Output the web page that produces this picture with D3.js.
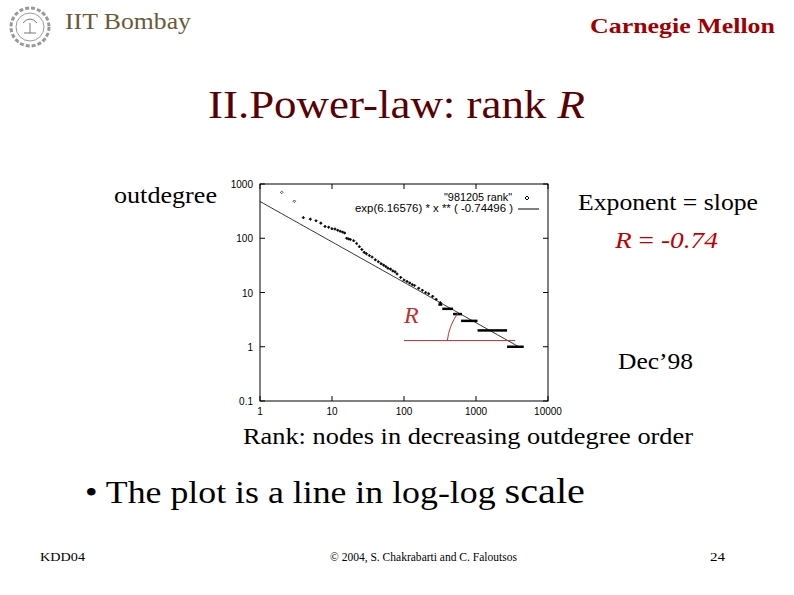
<!DOCTYPE html>
<html><head><meta charset="utf-8">
<script src="https://cdn.jsdelivr.net/npm/d3@7"></script>
<style>body{margin:0;background:#fff}</style>
</head><body>
<svg id="c" width="794" height="595"></svg>
<script>
// scattered points of the "981205 rank" series
const ranks = [2,3,4,5,6,7,8,9,10,11,12,13,14,15,16,17,18,20,22,24,26,28,30,33,36,40,44,48,52,56,60,65,70,75,80,90,100,110,120,130,140,160,180,200,220,250,280,320];
const degrees = [700,480,240,225,210,190,165,160,150,148,140,135,130,125,100,97,95,90,80,70,62,55,52,48,45,40,37,34,32,30,28,27,25,24,22,19,17,16,15,14,13.5,12,11,10,9.5,8.5,7.5,6.5];
// horizontal runs of equal outdegree
const plateauDeg = [6, 5, 4, 3, 2, 1];
const plateauFrom = [300, 340, 480, 620, 1050, 2700];
const plateauTo = [340, 480, 640, 1050, 2700, 4600];
const fitA = Math.exp(6.16576), fitB = -0.74496;
const xTicks = [1, 10, 100, 1000, 10000];
const yTicks = [0.1, 1, 10, 100, 1000];

const svg = d3.select('#c');
const x = d3.scaleLog().domain([1, 10000]).range([260, 548]);
const y = d3.scaleLog().domain([0.1, 1000]).range([401, 184]);
const serif = 'Liberation Serif, Times New Roman, serif';
const fit = (sel, w) => sel.attr('textLength', w).attr('lengthAdjust', 'spacingAndGlyphs');

// header
const logo = svg.append('g').attr('transform', 'translate(30,27)').attr('stroke', '#999').attr('fill', 'none');
logo.append('circle').attr('r', 19).attr('stroke-dasharray', '4 2').attr('stroke-width', 3);
logo.append('circle').attr('r', 14);
logo.append('path').attr('d', 'M-6,6 L6,6 M0,6 L0,-4 M-7,-4 Q0,-12 7,-4').attr('stroke', '#777');
fit(svg.append('text').attr('x', 65).attr('y', 29).attr('font-family', serif).attr('font-size', 23)
  .attr('fill', '#6b5a3a').text('IIT Bombay'), 126);
fit(svg.append('text').attr('x', 590).attr('y', 33).attr('font-family', serif)
  .attr('font-size', 22).attr('font-weight', 'bold').attr('fill', '#a00000').text('Carnegie Mellon'), 185);

const title = svg.append('text').attr('x', 208).attr('y', 118)
  .attr('font-family', serif).attr('font-size', 41).attr('fill', '#5a0000');
title.append('tspan').text('II.Power-law: rank ');
title.append('tspan').attr('font-style', 'italic').text('R');
fit(title, 377);

// plot frame
svg.append('rect').attr('x', 260).attr('y', 184).attr('width', 288).attr('height', 217)
  .attr('fill', 'none').attr('stroke', '#000').attr('stroke-width', 1);
const ax = svg.append('g').attr('font-family', 'Liberation Sans, Arial, sans-serif').attr('font-size', 10);
xTicks.forEach(t => {
  ax.append('line').attr('x1', x(t)).attr('x2', x(t)).attr('y1', 401).attr('y2', 396).attr('stroke', '#000');
  ax.append('line').attr('x1', x(t)).attr('x2', x(t)).attr('y1', 184).attr('y2', 189).attr('stroke', '#000');
  ax.append('text').attr('x', x(t)).attr('y', 415).attr('text-anchor', 'middle').text(t);
});
yTicks.forEach(t => {
  ax.append('line').attr('x1', 260).attr('x2', 265).attr('y1', y(t)).attr('y2', y(t)).attr('stroke', '#000');
  ax.append('line').attr('x1', 548).attr('x2', 543).attr('y1', y(t)).attr('y2', y(t)).attr('stroke', '#000');
  ax.append('text').attr('x', 253).attr('y', y(t) + 4).attr('text-anchor', 'end').text(t);
});

// fit line
const fitX = d3.range(0, 3.61, 0.05).map(e => Math.pow(10, e));
svg.append('path').attr('d', d3.line().x(d => x(d)).y(d => y(fitA * Math.pow(d, fitB)))(fitX))
  .attr('fill', 'none').attr('stroke', '#000').attr('stroke-width', 0.8);

// data points
svg.append('g').selectAll('path').data(ranks).join('path')
  .attr('d', (d, i) => `M${x(d)},${y(degrees[i]) - 1.3}l1.3,1.3l-1.3,1.3l-1.3,-1.3z`)
  .attr('fill', (d, i) => i < 2 ? 'none' : '#000').attr('stroke', '#000').attr('stroke-width', 0.7);
svg.append('g').selectAll('line').data(plateauDeg).join('line')
  .attr('x1', (d, i) => x(plateauFrom[i])).attr('x2', (d, i) => x(plateauTo[i]))
  .attr('y1', d => y(d)).attr('y2', d => y(d)).attr('stroke', '#000').attr('stroke-width', 2.5);

// legend
const lg = svg.append('g').attr('font-family', 'Liberation Sans, Arial, sans-serif').attr('font-size', 10);
fit(lg.append('text').attr('x', 444).attr('y', 201).text('"981205 rank"'), 68);
lg.append('path').attr('d', 'M527,196l2,2l-2,2l-2,-2z').attr('fill', 'none').attr('stroke', '#000');
fit(lg.append('text').attr('x', 355).attr('y', 212).text('exp(6.16576)  * x ** ( -0.74496 )'), 158);
lg.append('line').attr('x1', 518).attr('x2', 539).attr('y1', 209).attr('y2', 209).attr('stroke', '#000');

// red angle annotation
svg.append('line').attr('x1', x(100)).attr('x2', x(3500)).attr('y1', y(1.3)).attr('y2', y(1.3))
  .attr('stroke', '#c03030').attr('stroke-width', 1);
svg.append('path').attr('d', `M${x(400)},${y(1.3)} Q${x(420)},${y(2.4)} ${x(560)},${y(4.2)}`)
  .attr('fill', 'none').attr('stroke', '#c03030').attr('stroke-width', 1);
svg.append('text').attr('x', 404).attr('y', 323).attr('font-family', serif).attr('font-style', 'italic')
  .attr('font-size', 24).attr('fill', '#c03030').text('R');

// slide texts
const txt = (xx, yy, s, size, w) => fit(svg.append('text').attr('x', xx).attr('y', yy)
  .attr('font-family', serif).attr('font-size', size).attr('fill', '#000').text(s), w);
txt(114, 203, 'outdegree', 23, 103);
txt(578, 210, 'Exponent = slope', 23, 180);
const rt = svg.append('text').attr('x', 615).attr('y', 248).attr('font-family', serif).attr('font-size', 23).attr('fill', '#c00000');
rt.append('tspan').attr('font-style', 'italic').text('R');
rt.append('tspan').text(' = ');
rt.append('tspan').attr('font-style', 'italic').text('-0.74');
fit(rt, 103);
txt(618, 369, 'Dec’98', 23, 75);
txt(243, 444, 'Rank: nodes  in decreasing outdegree order', 23, 450);
const b = svg.append('text').attr('x', 85).attr('y', 503).attr('font-family', serif).attr('fill', '#000');
b.append('tspan').attr('font-size', 32).text('• The plot is a line in log-log ');
b.append('tspan').attr('font-size', 36).text('scale');
fit(b, 500);
txt(40, 561, 'KDD04', 13, 45);
txt(330, 561, '© 2004, S. Chakrabarti and C. Faloutsos', 13, 187);
txt(710, 561, '24', 13, 15);
</script>
</body></html>
